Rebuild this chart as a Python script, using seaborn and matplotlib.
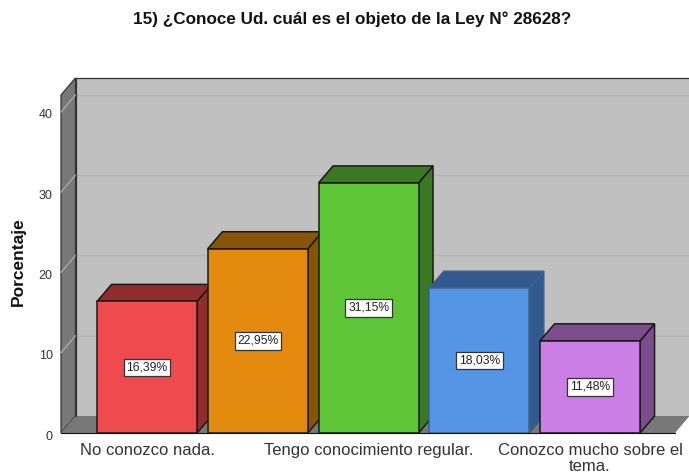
import pandas as pd
import seaborn as sns
import matplotlib.pyplot as plt
from matplotlib.patches import Polygon
from matplotlib.transforms import ScaledTranslation

# Data (2nd and 4th labels are not shown in the chart)
tick_labels = ['No conozco nada.', ' ', 'Tengo conocimiento regular.', '  ', 'Conozco mucho sobre el\ntema.']
values = [16.39, 22.95, 31.15, 18.03, 11.48]
yticks = [0, 10, 20, 30, 40]

front_colors = ['#EF4B4F', '#E38A0F', '#5DC536', '#5595E6', '#CB7EE6']
side_colors = ['#8F2D2F', '#875408', '#3A7822', '#335A8E', '#7C4D8C']
edge_colors = ['#1A1A1A', '#1A1A1A', '#1A1A1A', '#3F6088', '#1A1A1A']

W, H = 689, 474
plt.rcParams['font.family'] = ['Liberation Sans', 'DejaVu Sans']

fig = plt.figure(figsize=(W / 100, H / 100), dpi=100)
# plot box in pixels: left 61, right 675, bottom 433, top 95
ax = fig.add_axes([61 / W, 1 - 433 / H, (675 - 61) / W, (433 - 95) / H])

df = pd.DataFrame({'cat': tick_labels, 'pct': values})
sns.barplot(data=df, x='cat', y='pct', hue='cat', palette=front_colors, legend=False,
            width=100 / 110.75, saturation=1, ax=ax)

x0 = -0.777
x1 = 4.767
y1 = 42.1
ax.set_xlim(x0, x1)
ax.set_ylim(0, y1)

# depth of the 3D box in data units
dx = 14.5 / 110.75
dy = 17 / 8.03

# walls
wall = '#787878'
ax.add_patch(Polygon([(x0 + dx, dy), (x1 + dx, dy), (x1 + dx, y1 + dy), (x0 + dx, y1 + dy)],
                     fc='#C0C0C0', ec='none', clip_on=False, zorder=0.1))
ax.add_patch(Polygon([(x0, 0), (x0 + dx, dy), (x0 + dx, y1 + dy), (x0, y1)],
                     fc=wall, ec='#333333', lw=0.9, clip_on=False, zorder=0.2))
ax.add_patch(Polygon([(x0, 0), (x0 + dx, dy), (x1 + dx, dy), (x1, 0)],
                     fc=wall, ec='none', clip_on=False, zorder=0.2))
ax.plot([x0 + dx, x1 + dx], [y1 + dy, y1 + dy], color='#333333', lw=0.9, clip_on=False, zorder=0.3)

# gridlines on back wall and side wall
for t in yticks[1:]:
    ax.plot([x0 + dx, x1 + dx], [t + dy, t + dy], color='#B4B4B4', lw=1, clip_on=False, zorder=0.3)
    ax.plot([x0, x0 + dx], [t, t + dy], color='#A8A8A8', lw=1, clip_on=False, zorder=0.3)
ax.plot([x0 + dx, x0 + dx], [0 + dy, y1 + dy], color='#333333', lw=0.9, clip_on=False, zorder=0.3)

# turn the seaborn bars into boxes
for i, bar in enumerate(ax.patches[:5]):
    left = bar.get_x()
    right = left + bar.get_width()
    top = bar.get_height()
    z = 2 + i
    bar.set_edgecolor(edge_colors[i])
    bar.set_linewidth(1.1)
    bar.set_zorder(z + 0.5)
    ax.add_patch(Polygon([(right, 0), (right + dx, dy), (right + dx, top + dy), (right, top)],
                         fc=side_colors[i], ec=edge_colors[i], lw=1.1, clip_on=False, zorder=z))
    ax.add_patch(Polygon([(left, top), (left + dx, top + dy), (right + dx, top + dy), (right, top)],
                         fc=side_colors[i], ec=edge_colors[i], lw=1.1, clip_on=False, zorder=z))
    ax.text(i, top / 2, f'{values[i]:.2f}%'.replace('.', ','), ha='center', va='center',
            fontsize=8.7, color='#222222', zorder=20,
            bbox=dict(boxstyle='square,pad=0.22', fc='white', ec='#333333', lw=0.9))

for side in ['top', 'right', 'left']:
    ax.spines[side].set_visible(False)
ax.spines['bottom'].set_color('#111111')
ax.spines['bottom'].set_zorder(15)
ax.patch.set_visible(False)

ax.set_yticks(yticks)
ax.tick_params(axis='y', length=0, pad=6, labelsize=9, labelcolor='#333333')
ax.tick_params(axis='x', length=0, pad=7, labelsize=12, labelcolor='#333333')
plt.setp(ax.get_xticklabels(), linespacing=1.12)
# y tick labels sit slightly below their tick in the reference
for lab in ax.get_yticklabels():
    lab.set_transform(lab.get_transform() + ScaledTranslation(0, -1.5 / 72, fig.dpi_scale_trans))
ax.set_xlabel('')
ax.set_ylabel('')

fig.text(18 / W, 1 - 262 / H, 'Porcentaje', rotation=90, ha='center', va='center',
         fontsize=12.5, fontweight='bold', color='#111111')
fig.text(352 / W, 1 - 19 / H, '15) ¿Conoce Ud. cuál es el objeto de la Ley N° 28628?', ha='center', va='center',
         fontsize=12.3, fontweight='bold', color='#111111')

plt.savefig('out.png', dpi=100)
plt.close()
